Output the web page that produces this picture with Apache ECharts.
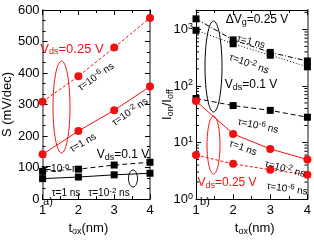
<!DOCTYPE html>
<html><head><meta charset="utf-8">
<script src="https://cdn.jsdelivr.net/npm/echarts@6/dist/echarts.min.js"></script>
<style>html,body{margin:0;padding:0;background:#fff}#c{width:314px;height:241px}</style>
</head><body><div id="c"></div>
<script>
// ---- data ----
const toxValues = [1, 2, 3, 4];
// panel a) S (mV/dec)
const sVds025Tau1e6 = [309, 390, 481, 575];
const sVds025Tau1 = [142, 216, 282, 357];
const sVds01Tau1e6 = [88, 95, 108, 117];
const sVds01Tau1 = [65, 70, 77, 82];
// panel b) Ion/Ioff
const rVg025Tau1 = [1536, 651, 392, 276];
const rVg025Tau1e2 = [962, 557, 349, 218];
const rVds01Tau1e6 = [60, 45, 37, 28];
const rVds025Tau1 = [54, 14.2, 7.7, 5.0];
const rVds025Tau1e6 = [6.0, 4.2, 3.3, 2.7];
// log axis tick labels (value, exponent)
const logTickValues = [1, 10, 100, 1000];
const logTickExponents = ['0', '1', '2', '3'];
const logMinorValues = [2,3,4,5,6,7,8,9,20,30,40,50,60,70,80,90,200,300,400,500,600,700,800,900,2000];

const FONT = 'Liberation Sans';
const RED = '#f01010';
const pairs = (ys) => toxValues.map((x, i) => [x, ys[i]]);

const chart = echarts.init(document.getElementById('c'), null, {renderer: 'canvas'});

const gridA = {left: 40, top: 10, width: 110, height: 198};
const gridB = {left: 196, top: 10, width: 112, height: 198};

function xAxisBase(gi, pos, show) {
  return {
    gridIndex: gi, type: 'value', min: 1, max: 4, interval: 1, position: pos,
    axisLine: {show: true, onZero: false, lineStyle: {color: '#000', width: 1}},
    axisTick: {show: true, inside: true, length: 5, lineStyle: {color: '#000'}},
    minorTick: {show: true, splitNumber: 2, length: 3, lineStyle: {color: '#000'}},
    axisLabel: {show: show, fontFamily: FONT, fontSize: 13, color: '#000', margin: 5},
    splitLine: {show: false}
  };
}

const sub = {fontSize: 9, verticalAlign: 'bottom', fontFamily: FONT, padding: [6,0,0,0]};

const option = {
  animation: false,
  grid: [gridA, gridB],
  xAxis: [
    Object.assign(xAxisBase(0, 'bottom', true), {
      name: 't{s|ox}(nm)', nameLocation: 'middle', nameGap: 18,
      nameTextStyle: {fontFamily: FONT, fontSize: 13, color: '#000', padding: [0, 16, 0, 0], rich: {s: Object.assign({}, sub, {color: '#000'})}}
    }),
    xAxisBase(0, 'top', false),
    Object.assign(xAxisBase(1, 'bottom', true), {
      name: 't{s|ox}(nm)', nameLocation: 'middle', nameGap: 18,
      nameTextStyle: {fontFamily: FONT, fontSize: 13, color: '#000', padding: [0, 0, 0, 6], rich: {s: Object.assign({}, sub, {color: '#000'})}}
    }),
    xAxisBase(1, 'top', false)
  ],
  yAxis: [
    {
      gridIndex: 0, type: 'value', min: 0, max: 600, interval: 100, position: 'left',
      name: 'S (mV/dec)', nameLocation: 'middle', nameGap: 27,
      nameTextStyle: {fontFamily: FONT, fontSize: 13, color: '#000'},
      axisLine: {show: true, lineStyle: {color: '#888', width: 2}},
      axisTick: {show: true, inside: true, length: 5, lineStyle: {color: '#000'}},
      minorTick: {show: true, splitNumber: 3, length: 3, lineStyle: {color: '#000'}},
      axisLabel: {fontFamily: FONT, fontSize: 13, color: '#000', margin: 3},
      splitLine: {show: false}
    },
    {
      gridIndex: 0, type: 'value', min: 0, max: 600, interval: 100, position: 'right',
      axisLine: {show: true, lineStyle: {color: '#888', width: 2}},
      axisTick: {show: true, inside: true, length: 5, lineStyle: {color: '#000'}},
      minorTick: {show: true, splitNumber: 3, length: 3, lineStyle: {color: '#000'}},
      axisLabel: {show: false}, splitLine: {show: false}
    },
    {
      gridIndex: 1, type: 'log', logBase: 10, min: 1, max: 2200, position: 'left',
      name: 'I{s|on}/I{s|off}', nameLocation: 'middle', nameGap: 21,
      nameTextStyle: {fontFamily: FONT, fontSize: 13, color: '#000', rich: {s: Object.assign({}, sub, {color: '#000'})}},
      axisLine: {show: true, lineStyle: {color: '#000', width: 1}},
      axisTick: {show: true, inside: true, length: 5, lineStyle: {color: '#000'}},
      axisLabel: {show: false},
      splitLine: {show: false}
    },
    {
      gridIndex: 1, type: 'log', logBase: 10, min: 1, max: 2200, position: 'right',
      axisLine: {show: true, lineStyle: {color: '#888', width: 2}},
      axisTick: {show: true, inside: true, length: 5, lineStyle: {color: '#000'}},
      axisLabel: {show: false}, splitLine: {show: false}
    }
  ],
  series: [
    {type: 'line', xAxisIndex: 0, yAxisIndex: 0, data: pairs(sVds025Tau1e6), symbol: 'circle', symbolSize: 8,
     lineStyle: {color: RED, width: 1, type: [3, 2]}, itemStyle: {color: RED}},
    {type: 'line', xAxisIndex: 0, yAxisIndex: 0, data: pairs(sVds025Tau1), symbol: 'circle', symbolSize: 8,
     lineStyle: {color: RED, width: 1}, itemStyle: {color: RED}},
    {type: 'line', xAxisIndex: 0, yAxisIndex: 0, data: pairs(sVds01Tau1e6), symbol: 'rect', symbolSize: 7,
     lineStyle: {color: '#000', width: 1, type: [5, 3]}, itemStyle: {color: '#000'}},
    {type: 'line', xAxisIndex: 0, yAxisIndex: 0, data: pairs(sVds01Tau1), symbol: 'rect', symbolSize: 7,
     lineStyle: {color: '#000', width: 1}, itemStyle: {color: '#000'}},

    {type: 'line', xAxisIndex: 2, yAxisIndex: 2, data: pairs(rVg025Tau1), symbol: 'rect', symbolSize: 7,
     lineStyle: {color: '#000', width: 1, type: [5, 2, 1, 2]}, itemStyle: {color: '#000'}},
    {type: 'line', xAxisIndex: 2, yAxisIndex: 2, data: pairs(rVg025Tau1e2), symbol: 'rect', symbolSize: 7,
     lineStyle: {color: '#000', width: 1, type: [1, 2]}, itemStyle: {color: '#000'}},
    {type: 'line', xAxisIndex: 2, yAxisIndex: 2, data: pairs(rVds01Tau1e6), symbol: 'rect', symbolSize: 7,
     lineStyle: {color: '#000', width: 1, type: [5, 3]}, itemStyle: {color: '#000'}},
    {type: 'line', xAxisIndex: 2, yAxisIndex: 2, data: pairs(rVds025Tau1), symbol: 'circle', symbolSize: 8,
     lineStyle: {color: RED, width: 1}, itemStyle: {color: RED}},
    {type: 'line', xAxisIndex: 2, yAxisIndex: 2, data: pairs(rVds025Tau1e6), symbol: 'circle', symbolSize: 8,
     lineStyle: {color: RED, width: 1, type: [3, 2]}, itemStyle: {color: RED}},
    {
      // minor ticks of the log axis (at 2..9 of each decade), positioned through the axis scale
      type: 'custom', xAxisIndex: 2, yAxisIndex: 2, silent: true, clip: false,
      data: logMinorValues.map(v => [1, v]),
      renderItem: function (params, api) {
        const v = api.value(1);
        const pL = api.coord([1, v]);
        const pR = api.coord([4, v]);
        if (pL[1] < gridB.top - 0.5) return null;
        return {
          type: 'group', children: [
            {type: 'line', shape: {x1: pL[0], y1: pL[1], x2: pL[0] + 3, y2: pL[1]}, style: {stroke: '#000', lineWidth: 1}},
            {type: 'line', shape: {x1: pR[0], y1: pR[1], x2: pR[0] - 3, y2: pR[1]}, style: {stroke: '#000', lineWidth: 1}}
          ]
        };
      }
    },
    {
      // tick labels of the log axis (10^n), positioned through the axis scale
      type: 'custom', xAxisIndex: 2, yAxisIndex: 2, silent: true, clip: false,
      data: logTickValues.map((v, i) => [1, v, i]),
      renderItem: function (params, api) {
        const v = api.value(1);
        const i = api.value(2);
        const p = api.coord([1, v]);
        return {
          type: 'text', x: p[0] - 3, y: p[1],
          style: {
            text: '{b|10}{p|' + logTickExponents[i] + '}',
            align: 'right', verticalAlign: 'middle',
            rich: {
              b: {fontSize: 13, fontFamily: FONT, fill: '#000'},
              p: {fontSize: 9, fontFamily: FONT, fill: '#000', verticalAlign: 'top', padding: [0, 0, 6, 0]}
            }
          }
        };
      }
    }
  ]
};

function txt(x, y, text, color, size, rot) {
  const rich = {
    d: {fontSize: 9, fontFamily: FONT, fill: color, verticalAlign: 'bottom', padding: [5,0,0,0]},
    u: {fontSize: 8, fontFamily: FONT, fill: color, verticalAlign: 'top', padding: [0,0,5,0]},
    n: {fontSize: size, fontFamily: FONT, fill: color}
  };
  return {
    type: 'text', x: x, y: y, rotation: (rot || 0) * Math.PI / 180, z: 100,
    style: {text: text, rich: rich, fill: color, fontSize: size, fontFamily: FONT, align: 'center', verticalAlign: 'middle'}
  };
}

option.graphic = [
  // panel a
  txt(72, 49, '{n|V}{d|ds}{n|=0.25 V}', RED, 13, 0),
  txt(96, 77, '{n|τ=10}{u|-6}{n| ns}', '#000', 10, 35),
  txt(130, 112, '{n|τ=10}{u|-2}{n| ns}', '#000', 10, 35),
  txt(83, 143, '{n|τ=1 ns}', '#000', 10, 30),
  txt(123, 155, '{n|V}{d|ds}{n|=0.1 V}', '#000', 12, 0),
  txt(62, 169, '{n|τ=10}{u|-6}{n| ns}', '#000', 10, 0),
  txt(66, 193, '{n|τ=1 ns}', '#000', 10, 0),
  txt(109, 193, '{n|τ=10}{u|-2}{n| ns}', '#000', 10, 0),
  txt(48, 202, '{n|a)}', '#000', 11, 0),
  // panel b
  txt(257, 20, '{n|ΔV}{d|g}{n|=0.25 V}', '#000', 12, 0),
  txt(251, 42, '{n|τ=1 ns}', '#000', 10, -15),
  txt(249, 64, '{n|τ=10}{u|-2}{n| ns}', '#000', 10, -20),
  txt(251, 85, '{n|V}{d|ds}{n|=0.1 V}', '#000', 12, 0),
  txt(258, 126, '{n|τ=10}{u|-6}{n| ns}', '#000', 10, -12),
  txt(243, 148, '{n|τ=1 ns}', '#000', 10, -20),
  txt(285, 169, '{n|τ=10}{u|-2}{n| ns}', '#000', 10, -15),
  txt(227, 183, '{n|V}{d|ds}{n|=0.25 V}', RED, 12, 0),
  txt(287, 189, '{n|τ=10}{u|-6}{n| ns}', '#000', 10, -8),
  txt(205, 202, '{n|b)}', '#000', 11, 0),
  // ellipses
  {type: 'ellipse', z: 100, shape: {cx: 61.5, cy: 107, rx: 8.5, ry: 46}, style: {fill: 'none', stroke: RED, lineWidth: 1}},
  {type: 'ellipse', z: 100, shape: {cx: 133, cy: 178.5, rx: 4.5, ry: 8.5}, style: {fill: 'none', stroke: '#000', lineWidth: 1}},
  {type: 'ellipse', z: 100, shape: {cx: 213.5, cy: 66.5, rx: 8.5, ry: 45.5}, style: {fill: 'none', stroke: '#000', lineWidth: 1}},
  {type: 'ellipse', z: 100, shape: {cx: 213.5, cy: 145, rx: 6.5, ry: 29}, style: {fill: 'none', stroke: RED, lineWidth: 1}}
];

chart.setOption(option);
</script>
</body></html>
